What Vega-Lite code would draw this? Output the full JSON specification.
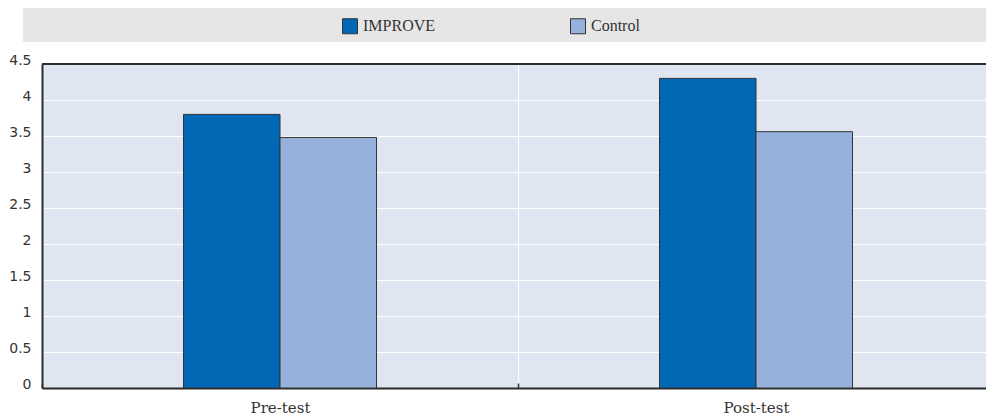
{
  "$schema": "https://vega.github.io/schema/vega-lite/v6.json",
  "width": 944,
  "height": 324,
  "autosize": {"type": "none"},
  "padding": {"left": 42, "top": 64, "right": 0, "bottom": 29},
  "background": "white",
  "config": {
    "view": {"fill": "#dfe6f2", "stroke": null},
    "axis": {"labelColor": "#333333"},
    "axisY": {
      "title": null, "values": [0, 0.5, 1, 1.5, 2, 2.5, 3, 3.5, 4, 4.5],
      "format": "~g", "labelOverlap": false,
      "labelFont": "DejaVu Sans", "labelFontSize": 14, "labelBaseline": "alphabetic",
      "labelPadding": 11, "ticks": false, "domain": true, "domainColor": "#2b2b2b", "domainWidth": 2,
      "grid": true, "gridColor": "#ffffff", "gridWidth": 1.2
    }
  },
  "datasets": {
    "scores": [
      {"test": "Pre-test", "group": "IMPROVE", "score": 3.8},
      {"test": "Pre-test", "group": "Control", "score": 3.48},
      {"test": "Post-test", "group": "IMPROVE", "score": 4.3},
      {"test": "Post-test", "group": "Control", "score": 3.56}
    ],
    "band": [{"x0": -0.02, "x1": 1, "y0": 4.806, "y1": 5.278}],
    "frame": [{"top": 4.5}]
  },
  "layer": [
    {
      "data": {"name": "band"},
      "mark": {"type": "rect", "fill": "#e6e6e6"},
      "encoding": {
        "x": {"field": "x0", "type": "quantitative", "scale": {"domain": [0, 1], "nice": false, "zero": false}, "axis": null},
        "x2": {"field": "x1"},
        "y": {"field": "y0", "type": "quantitative", "scale": {"domain": [0, 4.5], "nice": false},
              "axis": {"values": [0, 0.5, 1, 1.5, 2, 2.5, 3, 3.5, 4, 4.5], "title": null}},
        "y2": {"field": "y1"}
      }
    },
    {
      "data": {"name": "scores"},
      "mark": {"type": "bar", "stroke": "#333333", "strokeWidth": 1},
      "encoding": {
        "x": {
          "field": "test", "type": "nominal", "sort": ["Pre-test", "Post-test"],
          "scale": {"range": [0, 952], "paddingInner": 0, "paddingOuter": 0},
          "axis": {
            "title": null, "labelAngle": 0, "labelFont": "DejaVu Serif", "labelFontSize": 15,
            "labelPadding": 17, "domain": true, "domainColor": "#2b2b2b", "domainWidth": 2,
            "ticks": true, "tickBand": "extent", "tickColor": "#333333", "tickSize": -5, "tickWidth": 1.5,
            "grid": true, "gridColor": "#ffffff", "gridWidth": 1.2
          }
        },
        "xOffset": {
          "field": "group", "type": "nominal", "sort": ["IMPROVE", "Control"],
          "scale": {"range": [141.5, 334.5], "paddingInner": 0, "paddingOuter": 0}
        },
        "y": {
          "field": "score", "type": "quantitative",
          "scale": {"domain": [0, 4.5], "nice": false},
          "axis": {"values": [0, 0.5, 1, 1.5, 2, 2.5, 3, 3.5, 4, 4.5], "title": null}
        },
        "color": {
          "field": "group", "type": "nominal",
          "scale": {"domain": ["IMPROVE", "Control"], "range": ["#0068b4", "#96b2dc"]},
          "legend": {
            "title": null, "orient": "none", "legendX": 300, "legendY": -46,
            "direction": "horizontal", "padding": 0, "columnPadding": 132,
            "symbolType": "square", "symbolSize": 225, "symbolStrokeColor": "#333333", "symbolStrokeWidth": 1,
            "symbolOpacity": 1,
            "labelFont": "Liberation Serif", "labelFontSize": 16, "labelColor": "#333333", "labelOffset": 5
          }
        }
      }
    },
    {
      "data": {"name": "frame"},
      "mark": {"type": "rule", "color": "#2b2b2b", "strokeWidth": 2},
      "encoding": {"y": {"field": "top", "type": "quantitative", "axis": {"values": [0, 0.5, 1, 1.5, 2, 2.5, 3, 3.5, 4, 4.5], "title": null}}}
    }
  ],
  "resolve": {"scale": {"x": "independent"}, "axis": {"x": "independent"}}
}
